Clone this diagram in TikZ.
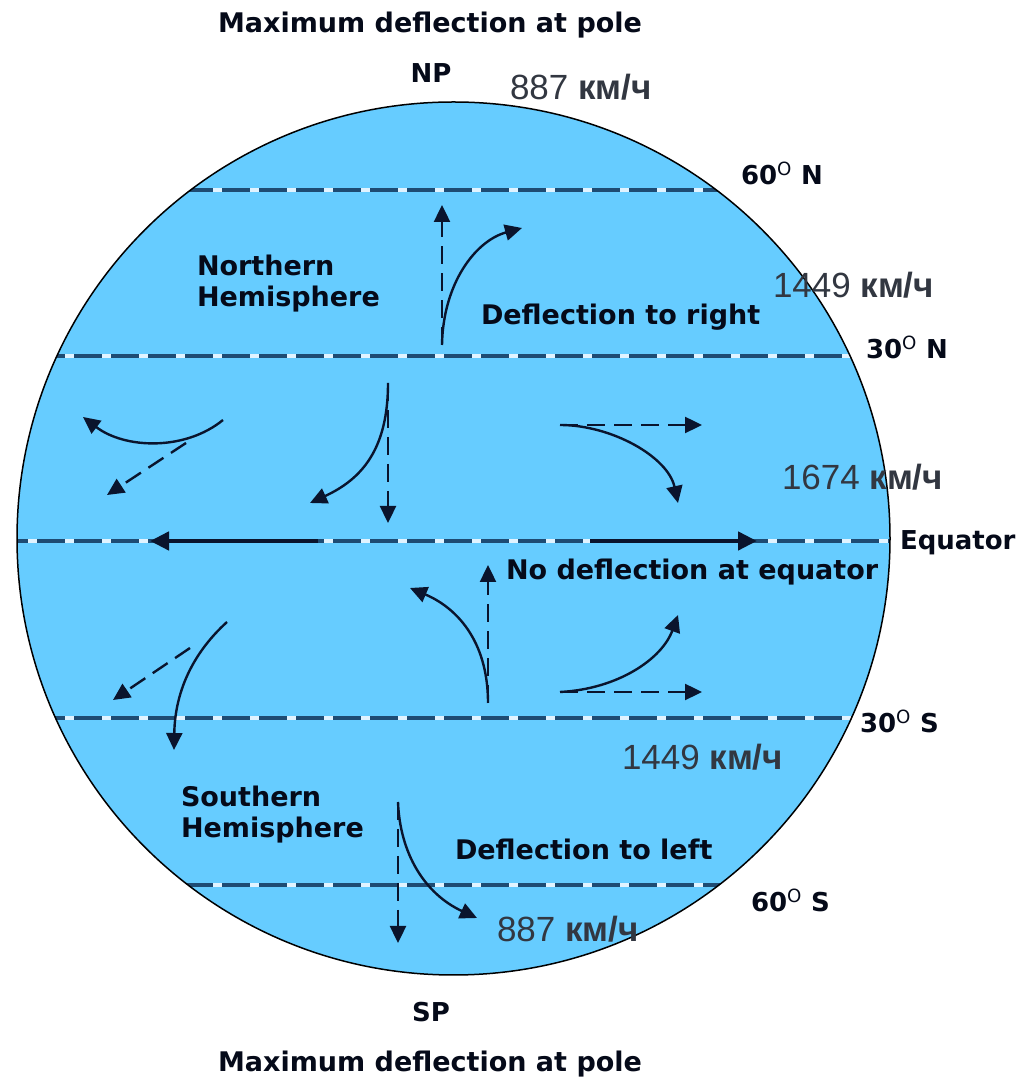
\documentclass[tikz,border=0pt]{standalone}
\usepackage{fontspec}
\setmainfont{DejaVu Sans}
\newfontfamily\speedfont{Liberation Sans}
\usetikzlibrary{arrows.meta}

\begin{document}
\begin{tikzpicture}[x=1pt,y=1pt,
  latgap/.style={draw=gapColor,line width=4pt},
  latline/.style={draw=latColor,line width=4pt,dash pattern=on 28pt off 9pt},
  windcurve/.style={draw=arrowColor,line width=2.4pt,-{Triangle[length=17pt,width=16pt]}},
  winddash/.style={draw=arrowColor,line width=2.4pt,dash pattern=on 18pt off 9pt,-{Triangle[length=17pt,width=16pt]}},
  eqarrow/.style={draw=arrowColor,line width=4.5pt,-{Triangle[length=19pt,width=18pt]}},
  lbl/.style={text=labelColor,anchor=base west,inner sep=0pt,outer sep=0pt,font=\bfseries\fontsize{27}{31}\selectfont},
  latlbl/.style={lbl,font=\bfseries\fontsize{26}{29}\selectfont},
  speedlbl/.style={text=speedColor,anchor=base west,inner sep=0pt,outer sep=0pt,font=\speedfont\fontsize{35}{40}\selectfont}]
\definecolor{fillColor}{RGB}{255,255,255}
\path[use as bounding box,fill=fillColor] (0,0) rectangle (1025,1079);
\definecolor{seaColor}{RGB}{102,204,255}
\definecolor{latColor}{RGB}{30,75,115}
\definecolor{gapColor}{RGB}{225,243,255}
\definecolor{arrowColor}{RGB}{10,20,45}
\definecolor{labelColor}{RGB}{5,10,25}
\definecolor{speedColor}{RGB}{50,55,65}

% globe
\coordinate (centre) at (453.5,540.5);
\path[fill=seaColor] (centre) circle (436.5pt);

% parallels
\begin{scope}
\path[clip] (centre) circle (436.5pt);
\foreach \yy in {889,723,538,361,194}{
  \path[latgap] (0,\yy) -- (1025,\yy);
  \path[latline] (0,\yy) -- (1025,\yy);
}
\end{scope}

\path[draw=black,line width=1.5pt] (centre) circle (436.5pt);

% northern hemisphere
\coordinate (nBase) at (442,734);
\coordinate (nUp) at (442,874);
\coordinate (nRight) at (522,851);
\path[winddash] (nBase) -- (nUp);
\path[windcurve] (nBase) .. controls (443,795) and (475,838) .. (nRight);

\coordinate (twStart) at (223,659);
\coordinate (twEnd) at (83,662);
\coordinate (twDashS) at (186,636);
\coordinate (twDashE) at (107,584);
\path[windcurve] (twStart) .. controls (185,628) and (125,630) .. (twEnd);
\path[winddash] (twDashS) -- (twDashE);

\coordinate (tmStart) at (388,696);
\coordinate (tmDown) at (388,556);
\coordinate (tmLeft) at (310,576);
\path[winddash] (tmStart) -- (tmDown);
\path[windcurve] (tmStart) .. controls (388,630) and (362,600) .. (tmLeft);

\coordinate (trStart) at (560,654);
\coordinate (trRight) at (702,654);
\coordinate (trDown) at (678,576);
\path[winddash] (trStart) -- (trRight);
\path[windcurve] (trStart) .. controls (612,654) and (668,622) .. (trDown);

% equator
\coordinate (elStart) at (318,538);
\coordinate (elEnd) at (150,538);
\coordinate (erStart) at (590,538);
\coordinate (erEnd) at (757,538);
\path[eqarrow] (elStart) -- (elEnd);
\path[eqarrow] (erStart) -- (erEnd);

% southern hemisphere
\coordinate (bmStart) at (488,376);
\coordinate (bmUp) at (488,514);
\coordinate (bmLeft) at (410,491);
\path[winddash] (bmStart) -- (bmUp);
\path[windcurve] (bmStart) .. controls (488,440) and (455,472) .. (bmLeft);

\coordinate (blStart) at (227,457);
\coordinate (blEnd) at (174,329);
\coordinate (blDashS) at (190,431);
\coordinate (blDashE) at (113,379);
\path[windcurve] (blStart) .. controls (195,428) and (175,390) .. (blEnd);
\path[winddash] (blDashS) -- (blDashE);

\coordinate (brStart) at (560,387);
\coordinate (brRight) at (702,387);
\coordinate (brUp) at (678,464);
\path[winddash] (brStart) -- (brRight);
\path[windcurve] (brStart) .. controls (618,390) and (662,420) .. (brUp);

\coordinate (sStart) at (398,277);
\coordinate (sDown) at (398,136);
\coordinate (sRight) at (477,161);
\path[winddash] (sStart) -- (sDown);
\path[windcurve] (sStart) .. controls (400,225) and (425,185) .. (sRight);

% labels
\node[lbl,anchor=base] (topTitle) at (430,1046) {Maximum deflection at pole};
\node[lbl,anchor=base] (bottomTitle) at (430,8) {Maximum deflection at pole};
\node[latlbl,anchor=base] (np) at (431,996) {NP};
\node[latlbl,anchor=base] (sp) at (431,57) {SP};

\node[lbl,align=left] (north) at (197,772) {Northern\\Hemisphere};
\node[lbl] (defRight) at (481,754) {Deflection to right};
\node[lbl] (noDef) at (506,499) {No deflection at equator};
\node[lbl,align=left] (south) at (181,241) {Southern\\Hemisphere};
\node[lbl] (defLeft) at (455,219) {Deflection to left};

\node[latlbl] (lat60n) at (741,894) {60\textsuperscript{\mdseries O} N};
\node[latlbl] (lat30n) at (866,720) {30\textsuperscript{\mdseries O} N};
\node[latlbl] (equator) at (900,529) {Equator};
\node[latlbl] (lat30s) at (860,346) {30\textsuperscript{\mdseries O} S};
\node[latlbl] (lat60s) at (751,167) {60\textsuperscript{\mdseries O} S};

\node[speedlbl] (v60n) at (510,979) {887 {\bfseries км/ч}};
\node[speedlbl] (v30n) at (773,781) {1449 {\bfseries км/ч}};
\node[speedlbl] (v0) at (782,589) {1674 {\bfseries км/ч}};
\node[speedlbl] (v30s) at (622,309) {1449 {\bfseries км/ч}};
\node[speedlbl] (v60s) at (497,137) {887 {\bfseries км/ч}};
\end{tikzpicture}
\end{document}
